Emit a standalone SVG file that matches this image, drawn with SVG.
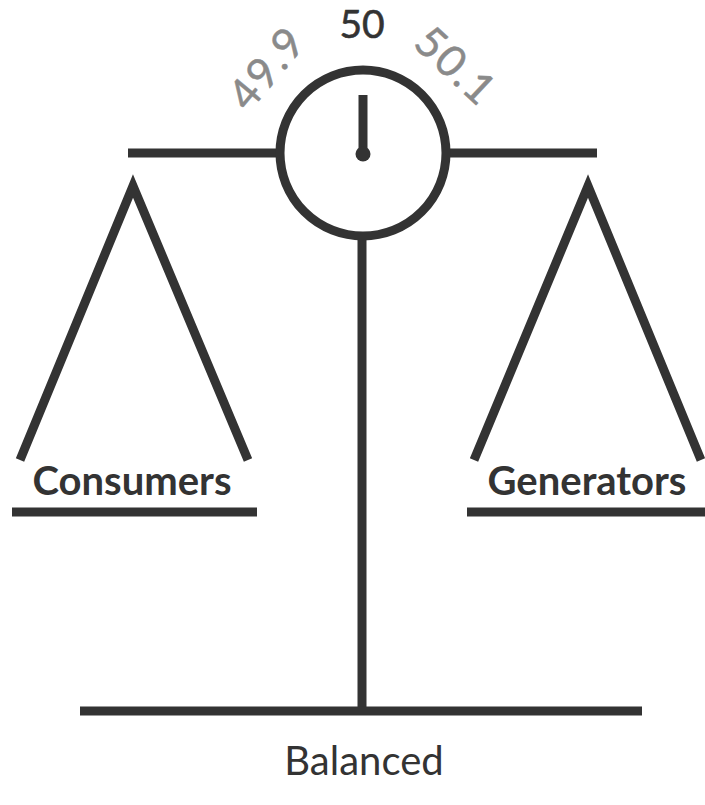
<svg xmlns="http://www.w3.org/2000/svg" width="705" height="805" viewBox="0 0 705 805">
<style>
.ln{stroke:#333;stroke-width:9;fill:none;stroke-linecap:butt}
.lbl{font-family:Lato,"Open Sans",sans-serif;fill:#333}
.dial{font-family:Lato,"Open Sans",sans-serif;fill:#8a8a8a;font-size:43px;letter-spacing:2px;stroke:#8a8a8a;stroke-width:0.5}
</style>
<rect width="705" height="805" fill="#fff"/>
<g id="connectors">
<line class="ln" x1="128" y1="153" x2="280" y2="153"/>
<line class="ln" x1="446" y1="153" x2="597" y2="153"/>
<line class="ln" x1="362" y1="238" x2="362" y2="708"/>
</g>
<g id="gauge">
<circle class="ln" cx="363" cy="153" r="83"/>
<line class="ln" x1="363" y1="95" x2="363" y2="153" stroke-width="6" stroke-linecap="round"/>
<circle cx="363" cy="154" r="7.5" fill="#333"/>
<text class="lbl" x="362" y="38" font-size="39" text-anchor="middle" stroke="#333" stroke-width="0.6">50</text>
<text class="dial" transform="translate(267,68) rotate(-50)" text-anchor="middle" dy="15">49.9</text>
<text class="dial" transform="translate(456,66) rotate(43)" text-anchor="middle" dy="15">50.1</text>
</g>
<g id="consumers">
<polyline class="ln" points="20,460 133,186 248,460" stroke-linejoin="miter"/>
<line class="ln" x1="12" y1="512" x2="257" y2="512" stroke-width="10"/>
<text class="lbl" x="132" y="495" font-size="40" font-weight="bold" text-anchor="middle">Consumers</text>
</g>
<g id="generators">
<polyline class="ln" points="474,460 588,186 701,460" stroke-linejoin="miter"/>
<line class="ln" x1="467" y1="512" x2="705" y2="512" stroke-width="10"/>
<text class="lbl" x="587" y="495" font-size="40" font-weight="bold" text-anchor="middle">Generators</text>
</g>
<g id="base">
<line class="ln" x1="80" y1="711" x2="642" y2="711" stroke-width="10"/>
<text class="lbl" x="364" y="775" font-size="40" text-anchor="middle">Balanced</text>
</g>
</svg>
